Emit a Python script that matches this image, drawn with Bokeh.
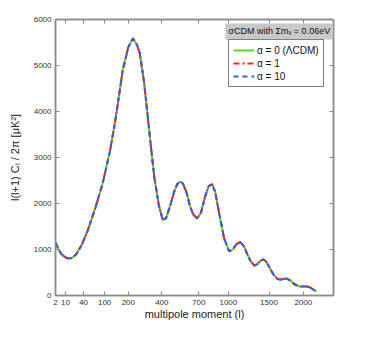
import numpy as np
from bokeh.plotting import figure
from bokeh.models import FixedTicker, LinearAxis, Range1d, Label, Legend, LegendItem
from bokeh.embed import file_html
from bokeh.resources import INLINE

# multipole moments and D_l = l(l+1)C_l/2pi [muK^2]
ell = [2, 4, 6, 9, 13, 18, 25, 35, 50, 70, 93, 120, 143, 173, 200, 223, 245, 261,
       285, 308, 330, 350, 380, 407, 430, 460, 490, 515, 537, 560, 590, 620, 650,
       684, 720, 760, 795, 828, 860, 900, 954, 1009, 1050, 1090, 1135, 1180, 1220,
       1257, 1307, 1350, 1390, 1424, 1460, 1510, 1560, 1610, 1643, 1690, 1744, 1800,
       1860, 1940, 2000, 2066, 2120, 2170, 2211]
dl_alpha0 = [1150, 990, 900, 840, 805, 815, 890, 1080, 1420, 1900, 2430, 3150, 3870,
             4890, 5400, 5590, 5450, 5260, 4650, 3870, 3150, 2550, 1950, 1640, 1680,
             1950, 2250, 2420, 2480, 2440, 2250, 1950, 1760, 1675, 1800, 2150, 2380,
             2420, 2250, 1800, 1240, 960, 1000, 1110, 1160, 1070, 900, 760, 650, 690,
             760, 785, 740, 600, 460, 370, 348, 355, 370, 330, 250, 196, 195, 196, 165,
             120, 87]
# the three models are indistinguishable at this scale
dl_alpha1 = list(dl_alpha0)
dl_alpha10 = list(dl_alpha0)

x_tick_vals = [2, 10, 40, 100, 200, 400, 700, 1000, 1500, 2000]
y_tick_vals = [0, 1000, 2000, 3000, 4000, 5000, 6000]
series_labels = ["α = 0 (ΛCDM)", "α = 1", "α = 10"]
note_text = "σCDM with Σmᵥ = 0.06eV"

def tr(v):
    return np.sqrt(np.asarray(v, dtype=float))

FONT = "Liberation Sans"
AX = "#8c8c8c"
TXT = "#333333"

p = figure(frame_width=278, frame_height=276, output_backend="svg", toolbar_location=None,
           x_range=Range1d(float(np.sqrt(2)), 50.0), y_range=Range1d(0, 6000),
           min_border_left=55, min_border_right=12, min_border_top=19, min_border_bottom=34)
p.xgrid.visible = False
p.ygrid.visible = False
p.outline_line_color = AX
p.outline_line_width = 1.5
p.background_fill_color = "white"
p.border_fill_color = "white"

xt = [float(v) for v in tr(x_tick_vals)]
overrides = {v: str(t) for v, t in zip(xt, x_tick_vals)}

for ax in p.xaxis:
    ax.ticker = FixedTicker(ticks=xt)
    ax.major_label_overrides = overrides
for ax in p.yaxis:
    ax.ticker = FixedTicker(ticks=y_tick_vals)

def style_axis(ax):
    ax.axis_line_color = AX
    ax.axis_line_width = 1.5
    ax.major_tick_line_color = AX
    ax.major_tick_in = 4
    ax.major_tick_out = 0
    ax.minor_tick_line_color = None
    ax.major_label_text_font = FONT
    ax.major_label_text_font_size = "8px"
    ax.major_label_text_color = TXT
    ax.axis_label_text_font = FONT
    ax.axis_label_text_font_style = "normal"
    ax.axis_label_text_font_size = "11px"
    ax.axis_label_text_color = "#222222"

style_axis(p.xaxis[0])
style_axis(p.yaxis[0])
p.xaxis[0].axis_label = "multipole moment (l)"
p.xaxis[0].axis_label_standoff = 0
p.xaxis[0].major_label_standoff = 4
p.yaxis[0].axis_label = "l(l+1) Cₗ / 2π [μK²]"
p.yaxis[0].axis_label_standoff = 10
p.yaxis[0].major_label_standoff = 4

# tick-only axes on the top and right edges (no labels)
top = LinearAxis(ticker=FixedTicker(ticks=xt))
style_axis(top)
top.major_label_text_color = None
top.major_label_standoff = 0
p.add_layout(top, "above")
right = LinearAxis(ticker=FixedTicker(ticks=y_tick_vals))
style_axis(right)
right.major_label_text_color = None
right.major_label_standoff = 0
p.add_layout(right, "right")

x = tr(ell)
r0 = p.line(x, dl_alpha0, line_color="#55dd11", line_width=2)
r1 = p.line(x, dl_alpha1, line_color="#ff2020", line_width=2, line_dash="6 3 2 3")
r10 = p.line(x, dl_alpha10, line_color="#2f5bff", line_width=2, line_dash="5 4")

legend = Legend(items=[LegendItem(label=series_labels[0], renderers=[r0]),
                       LegendItem(label=series_labels[1], renderers=[r1]),
                       LegendItem(label=series_labels[2], renderers=[r10])],
                location=(173, 208), border_line_color="black", border_line_width=1,
                background_fill_color="white", background_fill_alpha=1.0,
                label_text_font=FONT, label_text_font_size="10px", label_text_color="#111111",
                glyph_width=21, glyph_height=12, label_height=12, label_standoff=3,
                spacing=1, padding=4, margin=0)
p.add_layout(legend, "center")

note = Label(x=31.1, y=5740, text=note_text, text_font=FONT, text_font_size="9px",
             text_color="#111111", text_baseline="middle", text_align="left",
             background_fill_color="#c8c8c8", background_fill_alpha=1.0, padding=3)
p.add_layout(note)

open("out.html", "w").write(file_html(p, INLINE))
